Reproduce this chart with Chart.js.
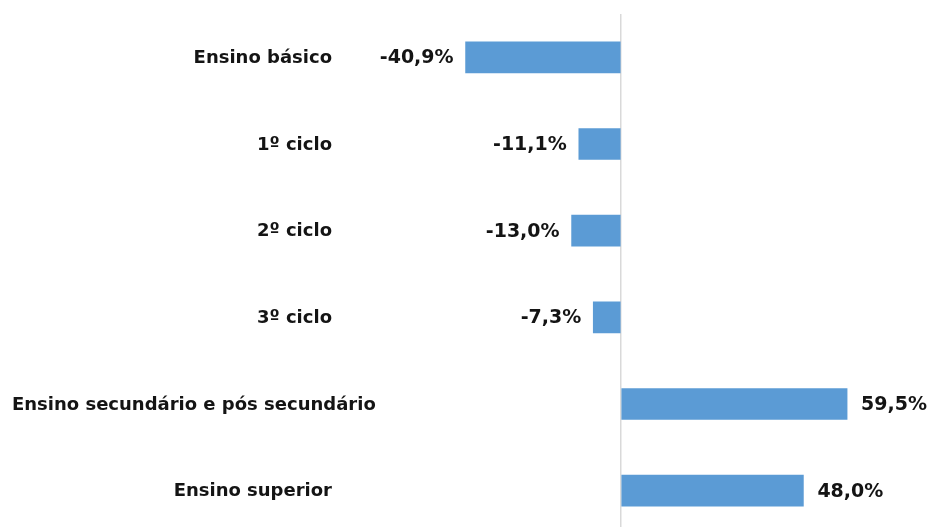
<!DOCTYPE html>
<html>
<head>
<meta charset="utf-8">
<script src="https://cdn.jsdelivr.net/npm/chart.js@4.4.1/dist/chart.umd.min.js"></script>
<style>
  html, body { margin: 0; padding: 0; background: #fff; overflow: hidden; }
  #wrap { width: 934px; height: 534px; position: relative; }
</style>
</head>
<body>
<div id="wrap"><canvas id="educChart"></canvas></div>
<script>
'use strict';

const categories = [
    "Ensino básico",
    "1º ciclo",
    "2º ciclo",
    "3º ciclo",
    "Ensino secundário e pós secundário",
    "Ensino superior"
];
const variation = [-40.9, -11.1, -13.0, -7.3, 59.5, 48.0];

const fmtPct = v => v.toFixed(1).replace(".", ",") + "%";

// category names to the left of the plot, value labels at the bar ends
const labelPlugin = {
    id: "barLabels",
    afterDatasetsDraw(chart) {
        const ctx = chart.ctx;
        const area = chart.chartArea;
        const meta = chart.getDatasetMeta(0);
        ctx.save();
        ctx.fillStyle = "#141414";
        ctx.textBaseline = "middle";

        ctx.font = "bold 18px 'DejaVu Sans', Tahoma, sans-serif";
        meta.data.forEach((bar, i) => {
            const w = ctx.measureText(categories[i]).width;
            const right = Math.max(area.left - 61, 12 + w);
            ctx.textAlign = "right";
            ctx.fillText(categories[i], right, bar.y + 1);
        });

        ctx.font = "bold 19px 'DejaVu Sans', Tahoma, sans-serif";
        meta.data.forEach((bar, i) => {
            const v = variation[i];
            if (v < 0) {
                ctx.textAlign = "right";
                ctx.fillText(fmtPct(v), bar.x - 12, bar.y + 1);
            } else {
                ctx.textAlign = "left";
                ctx.fillText(fmtPct(v), bar.x + 14, bar.y + 1);
            }
        });
        ctx.restore();
    }
};

const ctx = document.getElementById("educChart").getContext("2d");

const educChart = new Chart(ctx, {
    type: "bar",
    data: {
        labels: categories,
        datasets: [
            {
                data: variation,
                backgroundColor: "#5b9bd5",
                borderWidth: 0,
                barThickness: 31,
            },
        ],
    },
    options: {
        indexAxis: "y",
        responsive: true,
        maintainAspectRatio: false,
        animation: false,
        layout: {
            padding: { left: 393, right: 9, top: 14, bottom: 0 },
        },
        scales: {
            x: {
                min: -60,
                max: 80,
                ticks: { display: false },
                border: { display: false },
                grid: {
                    drawTicks: false,
                    lineWidth: 1.5,
                    color: c => (c.tick && c.tick.value === 0 ? "#d9d9d9" : "rgba(0,0,0,0)"),
                },
            },
            y: {
                ticks: { display: false },
                grid: { display: false, drawTicks: false },
                border: { display: false },
            },
        },
        plugins: {
            legend: { display: false },
            tooltip: { enabled: false },
        },
    },
    plugins: [labelPlugin],
});
</script>
</body>
</html>
